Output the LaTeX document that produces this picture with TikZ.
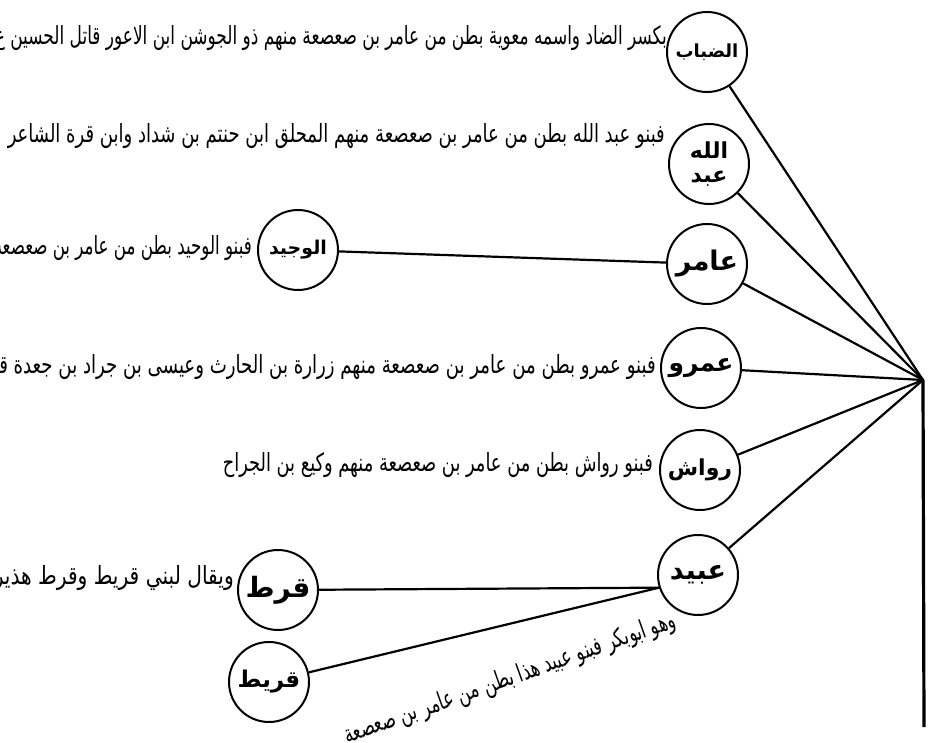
\documentclass[tikz,border=0pt]{standalone}
\usepackage{fontspec}
\usepackage{graphicx}
\newfontfamily\arabicfont[Script=Arabic]{DejaVu Sans}
\TeXXeTstate=1
\newcommand\artxt[2]{\resizebox{#1}{\height}{#2}}
\begin{document}
\begin{tikzpicture}[x=1pt,y=-1pt,
  bub/.style={circle,draw,line width=2pt,minimum size=80pt,inner sep=0pt},
  lab/.style={font=\arabicfont\bfseries,inner sep=0pt},
  txt/.style={anchor=east,inner sep=0pt,font=\arabicfont\fontsize{25}{28}\selectfont},
  conn/.style={line width=2.2pt},
  trunk/.style={line width=3.2pt}]
\useasboundingbox (0,0) rectangle (930,743);
\fill[white] (0,0) rectangle (930,743);
\clip (0,0) rectangle (930,743);

% junction and trunk
\coordinate (apex) at (923,380);
\coordinate (foot) at (924,727);

% circles
\node[bub] (dabab) at (707,52) {};
\node[bub] (abd) at (709,164) {};
\node[bub] (amir) at (707,264) {};
\node[bub] (wahid) at (298,250) {};
\node[bub] (amr) at (701,368) {};
\node[bub] (rawas) at (700,470) {};
\node[bub] (ubayd) at (698,575) {};
\node[bub] (qurt) at (278,590) {};
\node[bub] (qurayt) at (269,682) {};

% circle labels
\node[lab,font=\arabicfont\bfseries\fontsize{18}{20}\selectfont] (dababL) at (dabab) {\beginR الضباب\endR};
\node[lab,align=center,font=\arabicfont\bfseries\fontsize{22}{24}\selectfont] (abdL) at (abd) {\beginR الله\endR\\\beginR عبد\endR};
\node[lab,font=\arabicfont\bfseries\fontsize{27}{29}\selectfont] (amirL) at (amir) {\beginR عامر\endR};
\node[lab,font=\arabicfont\bfseries\fontsize{19}{21}\selectfont] (wahidL) at (wahid) {\beginR الوجيد\endR};
\node[lab,font=\arabicfont\bfseries\fontsize{25}{27}\selectfont] (amrL) at (amr) {\beginR عمرو\endR};
\node[lab,font=\arabicfont\bfseries\fontsize{22}{24}\selectfont] (rawasL) at (rawas) {\beginR رواش\endR};
\node[lab,font=\arabicfont\bfseries\fontsize{27}{29}\selectfont] (ubaydL) at (ubayd) {\beginR عبيد\endR};
\node[lab,font=\arabicfont\bfseries\fontsize{28}{30}\selectfont] (qurtL) at (qurt) {\beginR قرط\endR};
\node[lab,font=\arabicfont\bfseries\fontsize{23}{25}\selectfont] (quraytL) at (qurayt) {\beginR قريط\endR};

% connectors
\draw[trunk] (apex) -- (foot);
\draw[conn] (dabab) -- (apex);
\draw[conn] (abd) -- (apex);
\draw[conn] (amir) -- (apex);
\draw[conn] (amr) -- (apex);
\draw[conn] (rawas) -- (apex);
\draw[conn] (ubayd) -- (apex);
\draw[conn] (wahid) -- (amir);
\draw[conn] (qurt) -- (ubayd.198);
\draw[conn] (qurayt) -- (ubayd.198);

% texts
\node[txt] (t1) at (667,38) {\artxt{672pt}{\beginR بكسر الضاد واسمه معوية بطن من عامر بن صعصعة منهم ذو الجوشن ابن الاعور قاتل الحسين ع\endR}};
\node[txt] (t2) at (665,136) {\artxt{657pt}{\beginR فبنو عبد الله بطن من عامر بن صعصعة منهم المحلق ابن حنتم بن شداد وابن قرة الشاعر\endR}};
\node[txt] (t3) at (252,248) {\artxt{258pt}{\beginR فبنو الوحيد بطن من عامر بن صعصعة\endR}};
\node[txt] (t4) at (656,367) {\artxt{662pt}{\beginR فبنو عمرو بطن من عامر بن صعصعة منهم زرارة بن الحارث وعيسى بن جراد بن جعدة قا\endR}};
\node[txt] (t5) at (653,465) {\artxt{430pt}{\beginR فبنو رواش بطن من عامر بن صعصعة منهم وكيع بن الجراح\endR}};
\node[txt] (t6) at (234,578) {\artxt{240pt}{\beginR ويقال لبني قريط وقرط هذير\endR}};
\node[txt,anchor=center,rotate=19.5] (t7) at (510,679) {\artxt{350pt}{\beginR وهو ابوبكر فبنو عبيد هذا بطن من عامر بن صعصعة\endR}};
\end{tikzpicture}
\end{document}
